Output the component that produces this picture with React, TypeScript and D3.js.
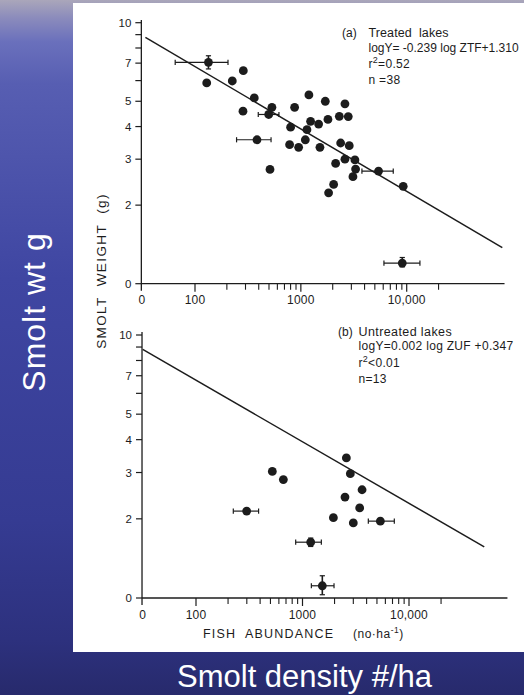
import React from 'react';
import * as d3 from 'd3';

const W = 524;
const H = 695;

// ---------- data ----------
const treatedX = [134, 129, 225, 286, 363, 284, 497, 533, 385, 511, 873, 800, 783, 953, 1191, 1236, 1142, 1102, 1472, 1515, 1702, 1803, 1829, 2040, 2131, 2309, 2377, 2609, 2609, 2805, 2866, 3243, 3290, 3105, 5420, 9270, 9080];
const treatedY = [7.05, 5.88, 5.98, 6.55, 5.15, 4.58, 4.45, 4.74, 3.56, 2.74, 4.74, 3.98, 3.41, 3.33, 5.29, 4.19, 3.89, 3.56, 4.09, 3.33, 5.0, 4.26, 2.23, 2.4, 2.89, 4.38, 3.46, 4.89, 3.0, 4.37, 3.38, 2.98, 2.75, 2.57, 2.7, 2.36, 1.2];
// error bars: index, x low, x high, y low, y high (null = none)
const treatedErrIdx = [0, 6, 8, 34, 36];
const treatedErrXLo = [65, 396, 247, 3776, 6095];
const treatedErrXHi = [205, 621, 523, 7464, 13335];
const treatedErrYLo = [6.65, null, null, null, 1.16];
const treatedErrYHi = [7.47, null, null, null, 1.26];

const untreatedX = [2582, 2813, 521, 661, 3624, 2506, 3443, 1950, 3000, 5383, 299, 1194, 1535];
const untreatedY = [3.41, 2.97, 3.03, 2.82, 2.58, 2.42, 2.2, 2.02, 1.93, 1.96, 2.14, 1.63, 1.113];
const untreatedErrIdx = [9, 10, 11, 12];
const untreatedErrXLo = [4150, 224, 863, 1211];
const untreatedErrXHi = [7280, 387, 1503, 1977];
const untreatedErrYLo = [null, null, 1.57, 1.029];
const untreatedErrYHi = [null, null, 1.69, 1.215];

// regression lines (log-log): slope, intercept, x range
const fitA = { slope: -0.239, intercept: 1.31, from: 34, to: 80000 };
const fitB = { slope: -0.234, intercept: 1.296, from: 31.6, to: 50900 };

// ticks
const yTickValues = [1, 2, 3, 4, 5, 6, 7, 8, 9, 10];
const yTickLabels = ['0', '2', '3', '4', '5', '', '7', '', '', '10'];
const xMajorValues = [31.6, 100, 1000, 10000];
const xMajorLabels = ['0', '100', '1000', '10,000'];
const xMinorValues = [200, 300, 400, 500, 600, 700, 800, 900, 2000, 3000, 4000, 5000, 6000, 7000, 8000, 9000, 20000];
const xAxisEnd = 84000;

const labelA = ['(a)', 'Treated  lakes', 'logY= -0.239 log ZTF+1.310', '=0.52', 'n =38'];
const labelB = ['(b)', 'Untreated lakes', 'logY=0.002 log ZUF +0.347', '<0.01', 'n=13'];

const ink = '#1c1c1c';
const font = "'Liberation Sans', Arial, Helvetica, sans-serif";
const pre = { whiteSpace: 'pre' as const };

type PanelProps = {
  x: d3.ScaleLogarithmic<number, number>;
  y: d3.ScaleLogarithmic<number, number>;
  xs: number[];
  ys: number[];
  errIdx: number[];
  errXLo: number[];
  errXHi: number[];
  errYLo: (number | null)[];
  errYHi: (number | null)[];
  fit: { slope: number; intercept: number; from: number; to: number };
  labels: string[];
  tagX: number;
  textX: number;
  textY: number;
  yTop: number;
  titleSpacing: number;
  eqSpacing: number;
};

function Panel(p: PanelProps) {
  const { x, y } = p;
  const axisX = x(31.6) - 0.7;
  const axisY = y(1);
  const fitLine = d3.line<number>()
    .x((v) => x(v))
    .y((v) => y(Math.pow(10, p.fit.slope * Math.log10(v) + p.fit.intercept)));
  const cap = 2.6;
  return (
    <g>
      {/* axes */}
      <line x1={axisX} x2={axisX} y1={p.yTop} y2={axisY + 7} stroke={ink} strokeWidth={1.3} />
      <line x1={axisX} x2={x(xAxisEnd)} y1={axisY} y2={axisY} stroke={ink} strokeWidth={1.3} />
      {yTickValues.map((v, i) => (
        <g key={'yt' + i}>
          <line x1={axisX - 6} x2={axisX} y1={y(v)} y2={y(v)} stroke={ink} strokeWidth={1.2} />
          {yTickLabels[i] && (
            <text x={axisX - 10} y={y(v)} dy="0.36em" textAnchor="end" fontSize={11.5} fill={ink} fontFamily={font}>
              {yTickLabels[i]}
            </text>
          )}
        </g>
      ))}
      {xMajorValues.map((v, i) => (
        <g key={'xm' + i}>
          {i > 0 && <line x1={x(v)} x2={x(v)} y1={axisY} y2={axisY + 8} stroke={ink} strokeWidth={1.2} />}
          <text x={x(v)} y={axisY + 20.5} textAnchor="middle" fontSize={12} letterSpacing={0.2} fill={ink} fontFamily={font}>
            {xMajorLabels[i]}
          </text>
        </g>
      ))}
      {xMinorValues.map((v, i) => (
        <line key={'xn' + i} x1={x(v)} x2={x(v)} y1={axisY} y2={axisY + 6} stroke={ink} strokeWidth={1.1} />
      ))}
      {/* regression line */}
      <path d={fitLine([p.fit.from, p.fit.to]) || ''} stroke={ink} strokeWidth={1.5} fill="none" />
      {/* error bars */}
      {p.errIdx.map((idx, i) => {
        const cx = x(p.xs[idx]);
        const cy = y(p.ys[idx]);
        const xl = x(p.errXLo[i]);
        const xh = x(p.errXHi[i]);
        const yl = p.errYLo[i];
        const yh = p.errYHi[i];
        return (
          <g key={'e' + i} stroke={ink} strokeWidth={1.2}>
            <line x1={xl} x2={xh} y1={cy} y2={cy} />
            <line x1={xl} x2={xl} y1={cy - cap} y2={cy + cap} />
            <line x1={xh} x2={xh} y1={cy - cap} y2={cy + cap} />
            {yl != null && yh != null && (
              <g>
                <line x1={cx} x2={cx} y1={y(yl)} y2={y(yh)} strokeWidth={1.6} />
                <line x1={cx - cap} x2={cx + cap} y1={y(yl)} y2={y(yl)} />
                <line x1={cx - cap} x2={cx + cap} y1={y(yh)} y2={y(yh)} />
              </g>
            )}
          </g>
        );
      })}
      {/* points */}
      {p.xs.map((v, i) => (
        <circle key={'p' + i} cx={x(v)} cy={y(p.ys[i])} r={4.4} fill={ink} />
      ))}
      {/* annotation */}
      <g fontFamily={font} fill={ink} fontSize={12}>
        <text x={p.tagX} y={p.textY} style={pre}>{p.labels[0]}</text>
        <text x={p.textX} y={p.textY} fontSize={12.5} letterSpacing={p.titleSpacing} style={pre}>{p.labels[1]}</text>
        <text x={p.textX} y={p.textY + 14.5} letterSpacing={p.eqSpacing} style={pre}>{p.labels[2]}</text>
        <text x={p.textX} y={p.textY + 31} letterSpacing={0.3}>
          <tspan>r</tspan>
          <tspan dy={-5} fontSize={9}>2</tspan>
          <tspan dy={5}>{p.labels[3]}</tspan>
        </text>
        <text x={p.textX} y={p.textY + 47} letterSpacing={0.3} style={pre}>{p.labels[4]}</text>
      </g>
    </g>
  );
}

export default function App() {
  const xA = d3.scaleLog().domain([100, 10000]).range([195, 406.7]);
  const yA = d3.scaleLog().domain([1, 10]).range([283.7, 22.7]);
  const xB = d3.scaleLog().domain([100, 10000]).range([196, 409]);
  const yB = d3.scaleLog().domain([1, 10]).range([598, 335]);

  return (
    <svg width={W} height={H} style={{ position: 'absolute', left: 0, top: 0 }} xmlns="http://www.w3.org/2000/svg">
      <defs>
        <linearGradient id="bg" x1="0" y1="0" x2="0" y2="1">
          <stop offset="0" stopColor="#aaa6ba" />
          <stop offset="0.025" stopColor="#8c8cbc" />
          <stop offset="0.06" stopColor="#6a70bc" />
          <stop offset="0.12" stopColor="#575eb2" />
          <stop offset="0.4" stopColor="#3f46a2" />
          <stop offset="0.75" stopColor="#353b92" />
          <stop offset="0.92" stopColor="#2d317e" />
          <stop offset="1" stopColor="#272a6c" />
        </linearGradient>
      </defs>
      <rect x={0} y={0} width={W} height={H} fill="url(#bg)" />
      <rect x={73} y={3} width={W - 73} height={649} fill="#ffffff" />

      <Panel
        x={xA}
        y={yA}
        xs={treatedX}
        ys={treatedY}
        errIdx={treatedErrIdx}
        errXLo={treatedErrXLo}
        errXHi={treatedErrXHi}
        errYLo={treatedErrYLo}
        errYHi={treatedErrYHi}
        fit={fitA}
        labels={labelA}
        tagX={342}
        textX={368.5}
        textY={37.3}
        yTop={20}
        titleSpacing={0.1}
        eqSpacing={0}
      />
      <Panel
        x={xB}
        y={yB}
        xs={untreatedX}
        ys={untreatedY}
        errIdx={untreatedErrIdx}
        errXLo={untreatedErrXLo}
        errXHi={untreatedErrXHi}
        errYLo={untreatedErrYLo}
        errYHi={untreatedErrYHi}
        fit={fitB}
        labels={labelB}
        tagX={338}
        textX={358.5}
        textY={335.7}
        yTop={332}
        titleSpacing={0.4}
        eqSpacing={0.3}
      />

      {/* scanned axis titles */}
      <text
        transform="translate(106,271) rotate(-90)"
        textAnchor="middle"
        fontFamily={font}
        fontSize={13.5}
        letterSpacing={1.4}
        fill={ink}
        style={pre}
      >
        SMOLT  WEIGHT  (g)
      </text>
      <text x={203} y={638} fontFamily={font} fontSize={12.5} letterSpacing={1.2} fill={ink} style={pre}>
        FISH  ABUNDANCE
      </text>
      <text x={353} y={638} fontFamily={font} fontSize={12} letterSpacing={0.5} fill={ink}>
        <tspan>(no·ha</tspan>
        <tspan dy={-5} fontSize={8.5}>-1</tspan>
        <tspan dy={5}>)</tspan>
      </text>

      {/* slide titles */}
      <text
        transform="translate(45,312) rotate(-90)"
        textAnchor="middle"
        fontFamily={font}
        fontSize={32}
        letterSpacing={1}
        fill="#ffffff"
      >
        Smolt wt g
      </text>
      <text x={177} y={687} fontFamily={font} fontSize={31} fill="#ffffff">
        Smolt density #/ha
      </text>
    </svg>
  );
}
